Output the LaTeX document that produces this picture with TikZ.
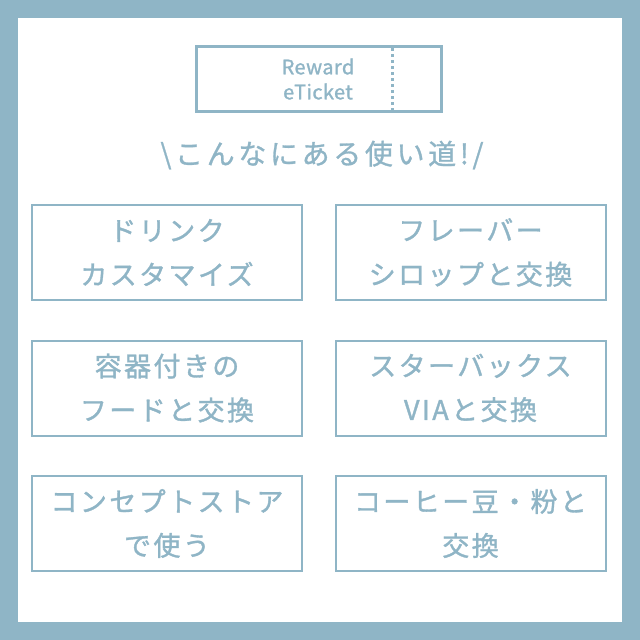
\documentclass[tikz,border=0pt]{standalone}
\usepackage{fontspec}
\newfontfamily\cjk[FakeBold=1.2,LetterSpace=9]{Noto Sans CJK JP}
\newfontfamily\cjkh[FakeBold=1.0,LetterSpace=13]{Noto Sans CJK JP}
\newfontfamily\cjkr[FakeBold=1.2,LetterSpace=2]{Noto Sans CJK JP}
\definecolor{sb}{HTML}{8FB5C6}
\begin{document}
\begin{tikzpicture}[x=1pt,y=-1pt,
  opt/.style={draw=sb,line width=2pt,minimum width=270pt,minimum height=95pt,inner sep=0pt,align=center,text=sb,font=\cjk\fontsize{27}{44}\selectfont}]
\fill[sb] (0,0) rectangle (640,640);
\fill[white] (18,18) rectangle (622,622);
\node[draw=sb,line width=3pt,minimum width=245pt,minimum height=65pt] (tk) at (318.5,78.5) {};
\draw[sb,line width=3pt,dash pattern=on 3pt off 3pt] (392,48) -- (392,110);
\node[text=sb,align=center,font=\cjkr\fontsize{20}{25}\selectfont] (rw) at (318,79) {Reward\\eTicket};
\node[text=sb,font=\cjkh\fontsize{28}{32}\selectfont] (hd) at (322,155) {\textbackslash こんなにある使い道!/};
\node[opt] (a) at (167,252.5) {ドリンク\\カスタマイズ};
\node[opt] (b) at (470.5,252.5) {フレーバー\\シロップと交換};
\node[opt] (c) at (167,388) {容器付きの\\フードと交換};
\node[opt] (d) at (470.5,388) {スターバックス\\VIAと交換};
\node[opt] (e) at (167,523.5) {コンセプトストア\\で使う};
\node[opt] (f) at (470.5,523.5) {コーヒー豆・粉と\\交換};
\end{tikzpicture}
\end{document}
